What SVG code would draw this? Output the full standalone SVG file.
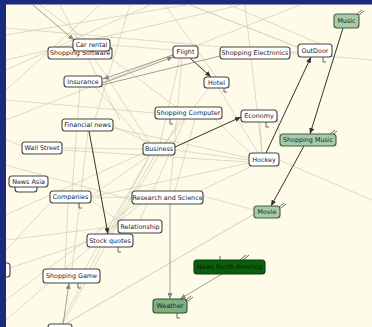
<svg xmlns="http://www.w3.org/2000/svg" width="372" height="327" viewBox="0 0 372 327">
<defs>
<marker id="ad" markerWidth="6" markerHeight="5" refX="6" refY="2.5" orient="auto" markerUnits="userSpaceOnUse"><path d="M0,0 L6,2.5 L0,5 z" fill="#333"/></marker>
<marker id="ag" markerWidth="6" markerHeight="5" refX="6" refY="2.5" orient="auto" markerUnits="userSpaceOnUse"><path d="M0,0 L6,2.5 L0,5 z" fill="#888"/></marker>
</defs>
<style>
.bg{fill:#fefbe9}
.fr{fill:#1b2a7e}
.l{stroke:#cfcbb4;stroke-width:0.7;fill:none}
.l2{stroke:#bdb9a2;stroke-width:0.7;fill:none}
.dk{stroke:#333;stroke-width:1;fill:none}
.gr{stroke:#888;stroke-width:0.8;fill:none}
.st{stroke:#444;stroke-width:0.8;fill:none}
.n rect{fill:#ffffff;stroke:#444;stroke-width:1.1}
.n text{font-family:"DejaVu Sans","Liberation Sans",sans-serif;font-size:6.4px;fill:#222;text-anchor:middle;dominant-baseline:central}
.g1 rect{fill:#a6cba6;stroke:#3e5e3e}
.g2 rect{fill:#7fb07f;stroke:#2f4f2f}
.g3 rect{fill:#0b5e0b;stroke:#083a08}
.g3 text{fill:#0a1a0a}
</style>
<rect class="bg" x="0" y="0" width="372" height="327"/>
<g id="connectors">
<line class="l" x1="40" y1="5" x2="180" y2="110"/>
<line class="l" x1="100" y1="5" x2="6" y2="90"/>
<line class="l" x1="150" y1="5" x2="6" y2="70"/>
<line class="l" x1="6" y1="35" x2="186" y2="5"/>
<line class="l" x1="6" y1="60" x2="240" y2="5"/>
<line class="l" x1="165" y1="5" x2="216" y2="77"/>
<line class="l2" x1="190" y1="5" x2="300" y2="48"/>
<line class="l" x1="230" y1="5" x2="320" y2="44"/>
<line class="l" x1="245" y1="5" x2="262" y2="153"/>
<line class="l" x1="6" y1="120" x2="300" y2="5"/>
<line class="l" x1="6" y1="28" x2="372" y2="60"/>
<line class="l" x1="60" y1="5" x2="120" y2="120"/>
<line class="l" x1="130" y1="5" x2="95" y2="119"/>
<line class="l" x1="6" y1="100" x2="155" y2="113"/>
<line class="l" x1="62" y1="148" x2="143" y2="149"/>
<line class="l" x1="175" y1="150" x2="249" y2="160"/>
<line class="l" x1="62" y1="150" x2="249" y2="162"/>
<line class="l" x1="113" y1="126" x2="150" y2="143"/>
<line class="l" x1="113" y1="128" x2="249" y2="158"/>
<line class="l" x1="91" y1="196" x2="150" y2="155"/>
<line class="l" x1="91" y1="197" x2="249" y2="163"/>
<line class="l" x1="91" y1="198" x2="132" y2="197"/>
<line class="l" x1="91" y1="200" x2="120" y2="222"/>
<line class="l" x1="110" y1="234" x2="155" y2="155"/>
<line class="l" x1="112" y1="234" x2="180" y2="119"/>
<line class="l" x1="140" y1="220" x2="185" y2="119"/>
<line class="l" x1="200" y1="191" x2="252" y2="166"/>
<line class="l" x1="175" y1="191" x2="195" y2="119"/>
<line class="l" x1="215" y1="119" x2="252" y2="155"/>
<line class="l" x1="260" y1="122" x2="262" y2="153"/>
<line class="l" x1="218" y1="87" x2="258" y2="153"/>
<line class="l" x1="210" y1="87" x2="165" y2="143"/>
<line class="l" x1="180" y1="58" x2="160" y2="143"/>
<line class="l" x1="95" y1="59" x2="150" y2="143"/>
<line class="l" x1="80" y1="87" x2="72" y2="191"/>
<line class="l" x1="95" y1="87" x2="145" y2="143"/>
<line class="l" x1="6" y1="165" x2="132" y2="200"/>
<line class="l" x1="6" y1="215" x2="143" y2="153"/>
<line class="l" x1="6" y1="240" x2="118" y2="226"/>
<line class="l" x1="6" y1="300" x2="135" y2="204"/>
<line class="l" x1="72" y1="269" x2="88" y2="131"/>
<line class="l" x1="65" y1="269" x2="68" y2="203"/>
<line class="l" x1="85" y1="269" x2="150" y2="155"/>
<line class="l" x1="60" y1="325" x2="150" y2="155"/>
<line class="l" x1="62" y1="325" x2="105" y2="247"/>
<line class="l2" x1="60" y1="327" x2="254" y2="214"/>
<line class="l" x1="6" y1="320" x2="140" y2="204"/>
<line class="l" x1="10" y1="268" x2="87" y2="242"/>
<line class="l" x1="182" y1="58" x2="170" y2="191"/>
<line class="l" x1="6" y1="140" x2="22" y2="146"/>
<line class="l" x1="6" y1="250" x2="50" y2="203"/>
<line class="l" x1="203" y1="196" x2="254" y2="210"/>
<line class="l" x1="279" y1="160" x2="372" y2="200"/>
<line class="l" x1="290" y1="53" x2="298" y2="51"/>
<line class="l" x1="110" y1="45" x2="173" y2="50"/>
<line class="l" x1="277" y1="116" x2="280" y2="138"/>
<line class="gr" x1="33" y1="5" x2="74" y2="40" marker-end="url(#ag)"/>
<line class="gr" x1="173" y1="55" x2="103" y2="79" marker-end="url(#ag)"/>
<line class="gr" x1="103" y1="83" x2="173" y2="57" marker-end="url(#ag)"/>
<line class="gr" x1="220" y1="56" x2="102" y2="85"/>
<line class="dk" x1="190" y1="58" x2="211" y2="77" marker-end="url(#ad)"/>
<line class="dk" x1="175" y1="147" x2="241" y2="117" marker-end="url(#ad)"/>
<line class="dk" x1="266" y1="153" x2="311" y2="57" marker-end="url(#ad)"/>
<line class="dk" x1="343" y1="28" x2="310" y2="134" marker-end="url(#ad)"/>
<line class="dk" x1="304" y1="146" x2="271" y2="206" marker-end="url(#ad)"/>
<line class="dk" x1="89" y1="131" x2="108" y2="234" marker-end="url(#ad)"/>
<line class="gr" x1="63" y1="325" x2="69" y2="283" marker-end="url(#ag)"/>
<line class="gr" x1="170" y1="204" x2="170" y2="299" marker-end="url(#ag)"/>
<line class="gr" x1="222" y1="274" x2="180" y2="299" marker-end="url(#ag)"/>
<path class="st" d="M170,119 v5 h3 M266,122 v5 h3 M323,57 v5 h3 M224,87 v5 h3 M79,203 v5 h3 M118,247 v5 h3 M78,283 v5 h3 M177,313 v5 h3 M220,260 v-4 M120,233 v4"/>
<path class="st" d="M357,14 l5,-4 M359,15 l5,-4 M330,134 l5,-4 M332,135 l5,-4 M279,207 l5,-4 M281,208 l5,-4 M240,260 l6,-5 M243,260 l6,-5 M186,300 l5,-4 M188,301 l5,-4"/>
</g>
<rect class="fr" x="0" y="0" width="372" height="4.5"/>
<g id="n-shopping-software" class="n"><rect x="48" y="47" width="64" height="12" rx="3"/><text x="80" y="53">Shopping Software</text></g>
<g id="n-car-rental" class="n"><rect x="73" y="39" width="37" height="12" rx="3"/><text x="91.5" y="45">Car rental</text></g>
<g id="n-insurance" class="n"><rect x="64" y="76" width="38" height="11" rx="3"/><text x="83" y="81.5">Insurance</text></g>
<g id="n-flight" class="n"><rect x="173" y="46" width="25" height="12" rx="3"/><text x="185.5" y="52">Flight</text></g>
<g id="n-shopping-electronics" class="n"><rect x="220" y="47" width="70" height="12" rx="3"/><text x="255" y="53">Shopping Electronics</text></g>
<g id="n-outdoor" class="n"><rect x="298" y="44" width="34" height="13" rx="3"/><text x="315" y="50.5">OutDoor</text></g>
<g id="n-music" class="n g1"><rect x="334" y="14" width="25" height="14" rx="3"/><text x="346.5" y="21">Music</text></g>
<g id="n-hotel" class="n"><rect x="204" y="77" width="25" height="11" rx="3"/><text x="216.5" y="82.5">Hotel</text></g>
<g id="n-shopping-computer" class="n"><rect x="155" y="107" width="67" height="12" rx="3"/><text x="188.5" y="113">Shopping Computer</text></g>
<g id="n-economy" class="n"><rect x="241" y="110" width="36" height="12" rx="3"/><text x="259" y="116">Economy</text></g>
<g id="n-business" class="n"><rect x="143" y="143" width="32" height="12" rx="3"/><text x="159" y="149">Business</text></g>
<g id="n-hockey" class="n"><rect x="249" y="153" width="30" height="13" rx="3"/><text x="264" y="159.5">Hockey</text></g>
<g id="n-shopping-music" class="n g1"><rect x="280" y="134" width="56" height="12" rx="3"/><text x="308" y="140">Shopping Music</text></g>
<g id="n-movie" class="n g1"><rect x="254" y="206" width="26" height="12" rx="3"/><text x="267" y="212">Movie</text></g>
<g id="n-financial-news" class="n"><rect x="62" y="119" width="51" height="12" rx="3"/><text x="87.5" y="125">Financial news</text></g>
<g id="n-wall-street" class="n"><rect x="22" y="142" width="40" height="12" rx="3"/><text x="42" y="148">Wall Street</text></g>
<g id="n-hidden" class="n"><rect x="15" y="181" width="22" height="11" rx="3"/></g>
<g id="n-news-asia" class="n"><rect x="9" y="176" width="39" height="11" rx="3"/><text x="28.5" y="181.5">News Asia</text></g>
<g id="n-companies" class="n"><rect x="50" y="191" width="41" height="12" rx="3"/><text x="70.5" y="197">Companies</text></g>
<g id="n-research-science" class="n"><rect x="132" y="191" width="71" height="13" rx="3"/><text x="167.5" y="197.5">Research and Science</text></g>
<g id="n-relationship" class="n"><rect x="118" y="220" width="44" height="13" rx="3"/><text x="140" y="226.5">Relationship</text></g>
<g id="n-stock-quotes" class="n"><rect x="87" y="234" width="46" height="13" rx="3"/><text x="110" y="240.5">Stock quotes</text></g>
<g id="n-shopping-game" class="n"><rect x="43" y="269" width="57" height="14" rx="3"/><text x="71.5" y="276">Shopping Game</text></g>
<g id="n-left-partial" class="n"><rect x="-10" y="263" width="20" height="14" rx="3"/></g>
<g id="n-bottom" class="n"><rect x="48" y="324" width="24" height="10" rx="3"/></g>
<g id="n-weather" class="n g2"><rect x="153" y="299" width="34" height="14" rx="3"/><text x="170" y="306">Weather</text></g>
<g id="n-news-north-america" class="n g3"><rect x="194" y="260" width="71" height="14" rx="3"/><text x="229.5" y="267">News North America</text></g>
<rect class="fr" x="0" y="0" width="6" height="327"/>
</svg>
